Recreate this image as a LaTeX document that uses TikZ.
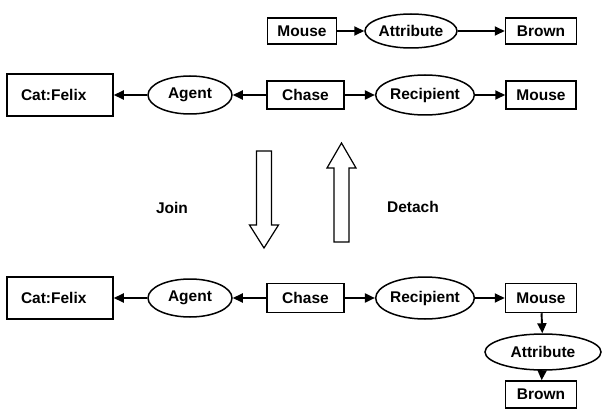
\documentclass[tikz,border=0pt]{standalone}
\usepackage{fontspec}
\setmainfont{Liberation Sans}
\usetikzlibrary{arrows.meta,shapes.geometric}
\tikzset{
  concept/.style={draw, rectangle, line width=1.5pt, inner sep=0pt, minimum width=#1, minimum height=28},
  relation/.style={draw, ellipse, line width=1.5pt, inner sep=0pt, minimum width=#1, minimum height=38},
  link/.style={-{Triangle[length=10pt,width=9pt]}, line width=1.9pt},
  blockarrow/.style={draw, line width=1.2pt, line join=miter}
}
\begin{document}
\begin{tikzpicture}[x = 1pt, y = -1pt, font=\fontsize{15.5}{18}\selectfont\bfseries]
  \useasboundingbox (0,0) rectangle (603,409);
  % graph to be joined
  \node[concept=69, minimum height=26] (mouseA) at (302,31) {Mouse};
  \node[relation=92, minimum height=34] (attrA) at (411,31) {Attribute};
  \node[concept=71, minimum height=26] (brownA) at (541,31) {Brown};
  \draw[link] (mouseA) -- (attrA);
  \draw[link] (attrA) -- (brownA);
  % main graph
  \node[concept=106, minimum height=42, text width=78pt, inner xsep=14pt, align=left] (catB) at (60,95) {Cat:Felix};
  \node[relation=84] (agentB) at (190,95) {Agent};
  \node[concept=77] (chaseB) at (305.5,95) {Chase};
  \node[relation=92, minimum height=40] (recipB) at (425,95) {Recipient};
  \node[concept=70] (mouseB) at (541,95) {Mouse};
  \draw[link] (chaseB) -- (agentB);
  \draw[link] (agentB) -- (catB);
  \draw[link] (chaseB) -- (recipB);
  \draw[link] (recipB) -- (mouseB);
  % join / detach
  \draw[blockarrow] (256.5,151) -- (271.5,151) -- (271.5,225) -- (278.5,225) -- (264,248) -- (249.5,225) -- (256.5,225) -- cycle;
  \draw[blockarrow] (334,242) -- (349,242) -- (349,168) -- (356,168) -- (341.5,143) -- (327,168) -- (334,168) -- cycle;
  \node (join) at (172,208) {Join};
  \node (detach) at (413,207) {Detach};
  % joined graph
  \node[concept=106, minimum height=42, text width=78pt, inner xsep=14pt, align=left] (catC) at (60,298) {Cat:Felix};
  \node[relation=84] (agentC) at (190,298) {Agent};
  \node[concept=77, minimum height=29] (chaseC) at (305.5,298) {Chase};
  \node[relation=92, minimum height=42] (recipC) at (425,298) {Recipient};
  \node[concept=71, minimum height=29] (mouseC) at (541,298) {Mouse};
  \node[relation=116, minimum height=36] (attrC) at (543,352) {Attribute};
  \node[concept=71, minimum height=27] (brownC) at (541,394.5) {Brown};
  \draw[link] (chaseC) -- (agentC);
  \draw[link] (agentC) -- (catC);
  \draw[link] (chaseC) -- (recipC);
  \draw[link] (recipC) -- (mouseC);
  \draw[link] (mouseC) -- (attrC);
  \draw[link] (attrC) -- (brownC);
\end{tikzpicture}
\end{document}
